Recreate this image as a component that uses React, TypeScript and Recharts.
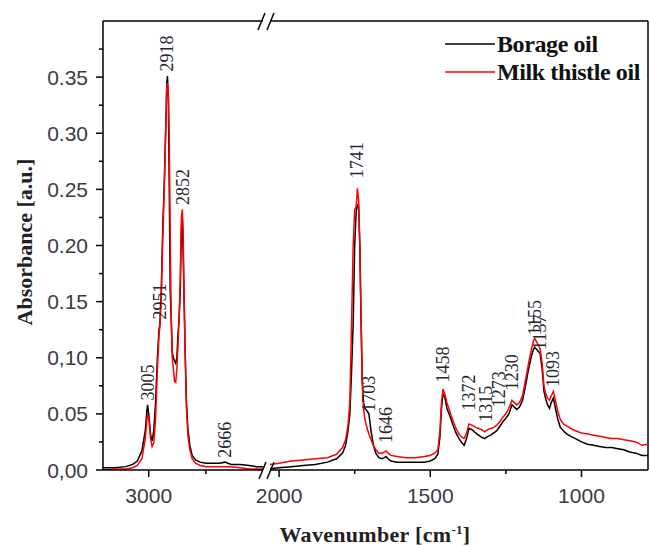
import React from 'react';
import { LineChart, Line, XAxis, YAxis, ReferenceDot, ReferenceLine } from 'recharts';

// FTIR spectra, broken wavenumber axis: 3200-2500 | 2030-780 cm-1

const LEFT_WN = [3200, 3150, 3100, 3070, 3050, 3030, 3015, 3008, 3005, 3000, 2992, 2985, 2978, 2970, 2962, 2955, 2951, 2945, 2938, 2932, 2926, 2921, 2918, 2914, 2910, 2906, 2902, 2897, 2892, 2887, 2882, 2877, 2872, 2867, 2862, 2857, 2853, 2849, 2845, 2840, 2835, 2828, 2820, 2810, 2795, 2775, 2750, 2720, 2690, 2666, 2640, 2600, 2560, 2530, 2500];
const LEFT_BORAGE = [0.002, 0.002, 0.003, 0.005, 0.008, 0.017, 0.035, 0.053, 0.058, 0.05, 0.032, 0.026, 0.035, 0.06, 0.1, 0.125, 0.13, 0.16, 0.22, 0.255, 0.3, 0.345, 0.351, 0.33, 0.25, 0.16, 0.138, 0.105, 0.1, 0.097, 0.095, 0.1, 0.12, 0.135, 0.16, 0.215, 0.225, 0.19, 0.15, 0.1, 0.06, 0.035, 0.022, 0.013, 0.009, 0.007, 0.006, 0.006, 0.006, 0.007, 0.005, 0.005, 0.004, 0.003, 0.003];
const LEFT_THISTLE = [0, 0.001, 0.001, 0.002, 0.004, 0.01, 0.028, 0.045, 0.049, 0.047, 0.028, 0.021, 0.024, 0.045, 0.09, 0.12, 0.128, 0.155, 0.21, 0.25, 0.3, 0.34, 0.345, 0.335, 0.295, 0.21, 0.14, 0.1, 0.09, 0.079, 0.078, 0.09, 0.11, 0.135, 0.17, 0.225, 0.232, 0.21, 0.15, 0.1, 0.055, 0.03, 0.018, 0.01, 0.006, 0.004, 0.003, 0.003, 0.003, 0.003, 0.003, 0.002, 0.001, 0.001, 0.001];

const RIGHT_WN = [2030, 2000, 1960, 1920, 1880, 1840, 1810, 1790, 1780, 1772, 1766, 1760, 1755, 1750, 1745, 1741, 1737, 1733, 1729, 1725, 1721, 1716, 1710, 1703, 1696, 1688, 1680, 1670, 1660, 1652, 1646, 1640, 1630, 1610, 1580, 1550, 1520, 1500, 1485, 1475, 1468, 1463, 1458, 1452, 1445, 1435, 1425, 1415, 1405, 1395, 1388, 1380, 1372, 1362, 1350, 1340, 1330, 1320, 1310, 1300, 1290, 1280, 1270, 1260, 1250, 1240, 1230, 1222, 1214, 1205, 1195, 1185, 1175, 1165, 1158, 1155, 1150, 1144, 1137, 1130, 1124, 1118, 1112, 1106, 1100, 1093, 1086, 1078, 1070, 1060, 1048, 1035, 1020, 1000, 980, 960, 940, 920, 900, 880, 860, 840, 820, 800, 780];
const RIGHT_BORAGE = [0.001, 0.002, 0.003, 0.004, 0.005, 0.007, 0.01, 0.015, 0.022, 0.035, 0.05, 0.09, 0.13, 0.2, 0.23, 0.236, 0.235, 0.2, 0.135, 0.08, 0.06, 0.055, 0.053, 0.05, 0.035, 0.022, 0.015, 0.011, 0.01, 0.011, 0.012, 0.01, 0.008, 0.007, 0.007, 0.007, 0.007, 0.008, 0.01, 0.014, 0.03, 0.055, 0.068, 0.065, 0.055, 0.048, 0.04, 0.033, 0.028, 0.024, 0.022, 0.028, 0.037, 0.036, 0.033, 0.031, 0.029, 0.028, 0.03, 0.031, 0.033, 0.035, 0.039, 0.043, 0.046, 0.05, 0.058, 0.056, 0.054, 0.056, 0.062, 0.075, 0.09, 0.102, 0.108, 0.109, 0.108, 0.106, 0.104, 0.09, 0.07, 0.063, 0.058, 0.055, 0.06, 0.064, 0.055, 0.045, 0.038, 0.035, 0.032, 0.03, 0.028, 0.025, 0.023, 0.022, 0.021, 0.02, 0.02, 0.019, 0.018, 0.016, 0.015, 0.013, 0.013];
const RIGHT_THISTLE = [0.005, 0.006, 0.008, 0.009, 0.01, 0.011, 0.014, 0.02, 0.027, 0.04, 0.06, 0.134, 0.2, 0.232, 0.235, 0.251, 0.24, 0.2, 0.137, 0.08, 0.055, 0.045, 0.038, 0.032, 0.027, 0.022, 0.018, 0.015, 0.015, 0.016, 0.017, 0.015, 0.013, 0.012, 0.011, 0.011, 0.012, 0.013, 0.015, 0.018, 0.035, 0.06, 0.072, 0.068, 0.06, 0.052, 0.044, 0.037, 0.032, 0.029, 0.028, 0.033, 0.041, 0.04, 0.038, 0.037, 0.036, 0.034, 0.036, 0.037, 0.038, 0.04, 0.043, 0.047, 0.05, 0.055, 0.062, 0.06, 0.058, 0.06, 0.066, 0.08, 0.095, 0.108, 0.116, 0.117, 0.115, 0.112, 0.108, 0.095, 0.075, 0.068, 0.064, 0.062, 0.066, 0.07, 0.062, 0.052, 0.045, 0.041, 0.039, 0.037, 0.035, 0.033, 0.032, 0.031, 0.03, 0.029, 0.028, 0.028, 0.027, 0.026, 0.025, 0.022, 0.023];

// peak annotations: wavenumber and absorbance where the rotated label starts
const LEFT_PEAKS = [3005, 2951, 2918, 2852, 2666];
const LEFT_PEAK_AT = [0.062, 0.134, 0.355, 0.236, 0.011];
const RIGHT_PEAKS = [1741, 1703, 1646, 1458, 1372, 1315, 1273, 1230, 1155, 1137, 1093];
const RIGHT_PEAK_AT = [0.26, 0.052, 0.024, 0.078, 0.053, 0.043, 0.056, 0.071, 0.12, 0.107, 0.074];

const SERIES_NAMES = ['Borage oil', 'Milk thistle oil'];
const SERIES_COLORS = ['#000000', '#ff0000'];

const Y_TICKS = [0, 0.025, 0.05, 0.075, 0.1, 0.125, 0.15, 0.175, 0.2, 0.225, 0.25, 0.275, 0.3, 0.325, 0.35, 0.375];
const Y_MAJOR = [0, 0.05, 0.1, 0.15, 0.2, 0.25, 0.3, 0.35];
const Y_LABELS = ['0,00', '0.05', '0,10', '0.15', '0.20', '0.25', '0.30', '0.35'];
const LEFT_X_TICKS = [3000, 2750];
const RIGHT_X_TICKS = [2000, 1750, 1500, 1250, 1000];
const X_MAJOR = [3000, 2000, 1500, 1000];

const SERIF = '"Liberation Serif", "Times New Roman", serif';
const SANS = '"Liberation Sans", Arial, sans-serif';
const AXIS = { stroke: '#000', strokeWidth: 1.5 };

const leftData = LEFT_WN.map((wn, i) => ({ wn, borage: LEFT_BORAGE[i], thistle: LEFT_THISTLE[i] }));
const rightData = RIGHT_WN.map((wn, i) => ({ wn, borage: RIGHT_BORAGE[i], thistle: RIGHT_THISTLE[i] }));

function YTick({ x, y, payload }: any) {
  const idx = Y_MAJOR.indexOf(payload.value);
  const major = idx >= 0;
  return (
    <g>
      <line x1={x - (major ? 7 : 4)} x2={x} y1={y} y2={y} stroke="#000" strokeWidth={1.5} />
      {major && (
        <text x={x - 15} y={y} textAnchor="end" dominantBaseline="central" fontFamily={SANS} fontSize={21} fill="#3a3a44">
          {Y_LABELS[idx]}
        </text>
      )}
    </g>
  );
}

function XTick({ x, y, payload }: any) {
  const major = X_MAJOR.includes(payload.value);
  return (
    <g>
      <line x1={x} x2={x} y1={y} y2={y + (major ? 7 : 4)} stroke="#000" strokeWidth={1.5} />
      {major && (
        <text x={x} y={y + 33} textAnchor="middle" fontFamily={SANS} fontSize={21} fill="#3a3a44">
          {payload.value}
        </text>
      )}
    </g>
  );
}

function peakLabel(text: string) {
  return ({ viewBox }: any) => {
    const cx = viewBox.x + viewBox.width / 2;
    const cy = viewBox.y + viewBox.height / 2;
    return (
      <text
        x={cx}
        y={cy}
        transform={`rotate(-90 ${cx} ${cy})`}
        textAnchor="start"
        dominantBaseline="central"
        fontFamily={SERIF}
        fontSize={18}
        fill="#262630"
      >
        {text}
      </text>
    );
  };
}

function YTitle() {
  const cx = 24;
  const cy = 242;
  return (
    <text x={cx} y={cy} transform={`rotate(-90 ${cx} ${cy})`} textAnchor="middle" dominantBaseline="central" fontFamily={SERIF} fontWeight="bold" fontSize={22} fill="#222">
      Absorbance [a.u.]
    </text>
  );
}

function XTitle() {
  return (
    <text x={375} y={542} textAnchor="middle" fontFamily={SERIF} fontWeight="bold" fontSize={22} fill="#222" letterSpacing={0.3}>
      Wavenumber [cm<tspan fontSize={13} dy={-8}>-1</tspan><tspan dy={8}>]</tspan>
    </text>
  );
}

// legend and axis-break marks drawn on top of both halves
function Overlay() {
  return (
    <svg width={650} height={546} style={{ position: 'absolute', left: 0, top: 0, pointerEvents: 'none' }}>
      <line x1={259} y1={479} x2={266} y2={462} stroke="#000" strokeWidth={1.5} />
      <line x1={267} y1={479} x2={274} y2={462} stroke="#000" strokeWidth={1.5} />
      <line x1={258} y1={30} x2={265} y2={13} stroke="#000" strokeWidth={1.5} />
      <line x1={267} y1={30} x2={274} y2={13} stroke="#000" strokeWidth={1.5} />
      {SERIES_NAMES.map((name, i) => (
        <g key={name}>
          <line x1={445} x2={495} y1={44 + i * 28} y2={44 + i * 28} stroke={SERIES_COLORS[i]} strokeWidth={1.5} />
          <text x={497} y={52 + i * 28} fontFamily={SERIF} fontWeight="bold" fontSize={24} letterSpacing={-0.4} fill="#111">
            {name}
          </text>
        </g>
      ))}
    </svg>
  );
}

export default function App() {
  return (
    <div style={{ position: 'absolute', left: 0, top: 0, width: 650, height: 546, background: '#fff', overflow: 'hidden' }}>
      {/* left segment 3200-2500 */}
      <div style={{ position: 'absolute', left: 0, top: 0 }}>
        <LineChart width={650} height={546} data={leftData} margin={{ top: 21, right: 387, left: 30, bottom: 46 }}>
          <XAxis dataKey="wn" type="number" domain={[2500, 3200]} reversed allowDataOverflow ticks={LEFT_X_TICKS} interval={0} tick={<XTick />} tickLine={false} tickSize={0} tickMargin={0} height={30} axisLine={AXIS} />
          <YAxis type="number" domain={[0, 0.4]} allowDataOverflow ticks={Y_TICKS} interval={0} width={73} tick={<YTick />} tickLine={false} tickSize={0} tickMargin={0} axisLine={AXIS} label={<YTitle />} />
          <ReferenceLine y={0.4} stroke="#000" strokeWidth={1.5} ifOverflow="extendDomain" />
          <Line dataKey="borage" name={SERIES_NAMES[0]} stroke={SERIES_COLORS[0]} strokeWidth={1.5} dot={false} isAnimationActive={false} />
          <Line dataKey="thistle" name={SERIES_NAMES[1]} stroke={SERIES_COLORS[1]} strokeWidth={1.5} dot={false} isAnimationActive={false} />
          {LEFT_PEAKS.map((wn, i) => (
            <ReferenceDot key={wn} x={wn} y={LEFT_PEAK_AT[i]} r={1} fill="none" stroke="none" label={peakLabel(String(wn))} />
          ))}
        </LineChart>
      </div>
      {/* right segment 2030-780 */}
      <div style={{ position: 'absolute', left: 0, top: 0 }}>
        <LineChart width={650} height={546} data={rightData} margin={{ top: 21, right: 2, left: 270, bottom: 46 }}>
          <XAxis dataKey="wn" type="number" domain={[780, 2030]} reversed allowDataOverflow ticks={RIGHT_X_TICKS} interval={0} tick={<XTick />} tickLine={false} tickSize={0} tickMargin={0} height={30} axisLine={AXIS} label={<XTitle />} />
          <YAxis type="number" domain={[0, 0.4]} allowDataOverflow hide />
          <ReferenceLine y={0.4} stroke="#000" strokeWidth={1.5} ifOverflow="extendDomain" />
          <ReferenceLine x={780} stroke="#000" strokeWidth={1.5} ifOverflow="extendDomain" />
          <Line dataKey="borage" name={SERIES_NAMES[0]} stroke={SERIES_COLORS[0]} strokeWidth={1.5} dot={false} isAnimationActive={false} />
          <Line dataKey="thistle" name={SERIES_NAMES[1]} stroke={SERIES_COLORS[1]} strokeWidth={1.5} dot={false} isAnimationActive={false} />
          {RIGHT_PEAKS.map((wn, i) => (
            <ReferenceDot key={wn} x={wn} y={RIGHT_PEAK_AT[i]} r={1} fill="none" stroke="none" label={peakLabel(String(wn))} />
          ))}
        </LineChart>
      </div>
      <Overlay />
    </div>
  );
}
